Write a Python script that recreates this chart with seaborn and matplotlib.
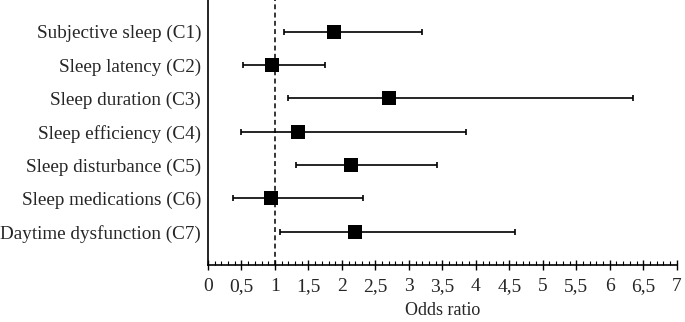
import matplotlib
matplotlib.use("Agg")
import matplotlib.pyplot as plt
import seaborn as sns
import numpy as np
import pandas as pd
from matplotlib.ticker import MultipleLocator, FixedLocator

categories = ["Subjective sleep (C1)", "Sleep latency (C2)", "Sleep duration (C3)",
              "Sleep efficiency (C4)", "Sleep disturbance (C5)", "Sleep medications (C6)",
              "Daytime dysfunction (C7)"]
odds_ratio = [1.88, 0.95, 2.71, 1.35, 2.13, 0.94, 2.19]
ci_low = [1.14, 0.52, 1.20, 0.49, 1.32, 0.38, 1.08]
ci_high = [3.20, 1.74, 6.34, 3.85, 3.42, 2.32, 4.59]
x_ticks = [0, 0.5, 1, 1.5, 2, 2.5, 3, 3.5, 4, 4.5, 5, 5.5, 6, 6.5, 7]
x_tick_labels = ["0", "0,5", "1", "1,5", "2", "2,5", "3", "3,5", "4", "4,5", "5", "5,5", "6", "6,5", "7"]

df = pd.DataFrame({"cat": categories, "or": odds_ratio, "lo": ci_low, "hi": ci_high})

sns.set_style("white")
plt.rcParams["font.family"] = ["Liberation Serif", "DejaVu Serif"]

fig = plt.figure(figsize=(6.85, 3.22), dpi=100)
ax = fig.add_axes([208/685, 1 - 265/322, (676.7 - 208)/685, 265/322])

ypos = np.arange(len(categories))
ax.errorbar(df["or"], ypos,
            xerr=[df["or"] - df["lo"], df["hi"] - df["or"]],
            fmt="none", ecolor="black", elinewidth=1.2, capsize=2.2, capthick=1.2, zorder=2)
sns.scatterplot(data=df, x="or", y=ypos, marker="s", color="black", s=95,
                edgecolor="black", linewidth=0, ax=ax, zorder=3)
ax.axvline(1, color="black", linestyle=(0, (3.2, 2.2)), linewidth=1.1, zorder=1)

ax.set_xlim(0, 7)
ax.set_ylim(7.0, -0.95)
ax.set_yticks(ypos)
ax.set_yticklabels(categories, fontsize=13.8)
ax.xaxis.set_major_locator(FixedLocator(x_ticks))
ax.set_xticklabels(x_tick_labels, fontsize=14)
ax.xaxis.set_minor_locator(MultipleLocator(0.1))
ax.tick_params(axis="x", which="major", direction="inout", length=7, width=1, color="black", pad=6)
ax.tick_params(axis="x", which="minor", direction="in", length=3, width=0.8, color="black")
ax.tick_params(axis="x", which="both", bottom=True)
ax.tick_params(axis="y", length=0, pad=5)
ax.set_xlabel("Odds ratio", fontsize=13, labelpad=5)
ax.set_ylabel("")

for s in ["top", "right"]:
    ax.spines[s].set_visible(False)
for s in ["left", "bottom"]:
    ax.spines[s].set_visible(True)
    ax.spines[s].set_color("black")
    ax.spines[s].set_linewidth(1.2)

fig.savefig("out.png", dpi=100)
